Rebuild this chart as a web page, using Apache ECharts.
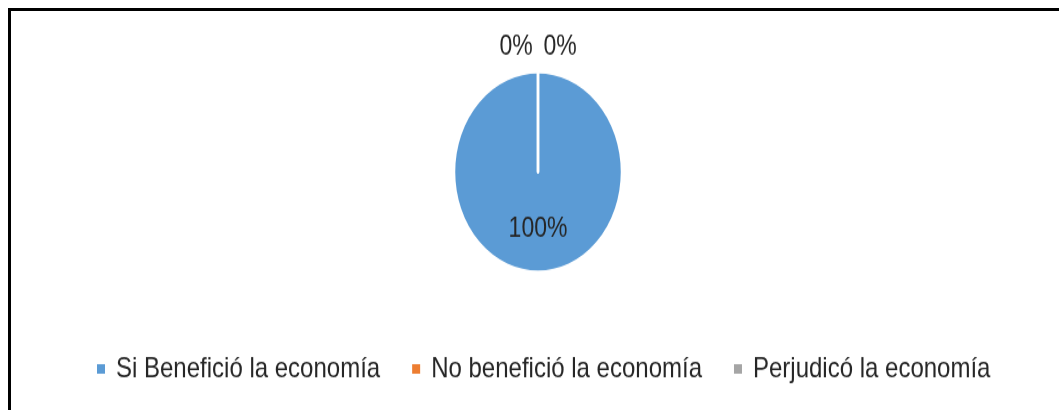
<!DOCTYPE html>
<html>
<head>
<meta charset="utf-8">
<script src="https://cdn.jsdelivr.net/npm/echarts@6/dist/echarts.min.js"></script>
<style>
  html, body { margin: 0; padding: 0; background: #fff; }
  #frame {
    position: absolute; left: 8px; top: 8px; width: 1060px; height: 410px;
    border-top: 3px solid #000; border-left: 3px solid #000;
  }
  /* the source picture is stretched vertically, so the chart is too */
  #chart {
    position: absolute; left: 0; top: 0; width: 1059px; height: 345px;
    transform: scaleY(1.19); transform-origin: 0 0;
  }
</style>
</head>
<body>
<div id="frame"></div>
<div id="chart"></div>
<script>
const categories = ['Si Benefició la economía', 'No benefició la economía', 'Perjudicó la economía']
const values = [100, 0, 0]
const colors = ['#5B9BD5', '#ED7D31', '#A5A5A5']

const chart = echarts.init(document.getElementById('chart'), null, { renderer: 'canvas' })

const font = '"Liberation Sans", Arial, sans-serif'

chart.setOption({
  animation: false,
  color: colors,
  legend: {
    data: categories,
    left: 90,
    top: 293,
    itemWidth: 10,
    itemHeight: 10,
    itemGap: 30,
    icon: 'rect',
    textStyle: { fontFamily: font, fontSize: 24, color: '#262626', padding: [0, 0, 0, 5] }
  },
  series: [{
    type: 'pie',
    center: [538, 144.5],
    radius: 84,
    startAngle: 90,
    clockwise: true,
    avoidLabelOverlap: false,
    itemStyle: { borderColor: '#fff', borderWidth: 2.5 },
    label: {
      show: true,
      formatter: '{d}%',
      fontFamily: font,
      fontSize: 23,
      color: '#262626'
    },
    labelLine: { show: false },
    // 0% labels sit side by side above the pie, 100% inside
    labelLayout: function (p) {
      if (p.dataIndex === 0) return { dy: 3 }
      const cx = 538
      return {
        x: p.dataIndex === 1 ? cx - 22 : cx + 22,
        y: 40,
        align: 'center',
        verticalAlign: 'middle'
      }
    },
    data: categories.map((name, i) => ({
      name: name,
      value: values[i],
      label: { position: i === 0 ? 'inside' : 'outside' }
    }))
  }]
})
</script>
</body>
</html>
